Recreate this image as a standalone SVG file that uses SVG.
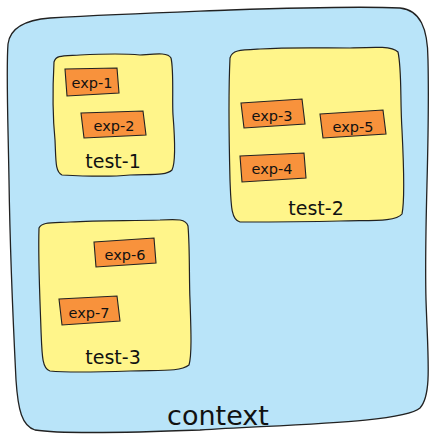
<svg xmlns="http://www.w3.org/2000/svg" width="432" height="434" viewBox="0 0 432 434">
<style>
.ctx{fill:#b9e4f9;stroke:#222;stroke-width:1.3}
.test{fill:#fff58a;stroke:#222;stroke-width:1.2}
.exp{fill:#f8923c;stroke:#222;stroke-width:1.1}
text{font-family:"Comic Sans MS","DejaVu Sans",sans-serif;fill:#111}
.el{font-size:14.5px}
.tl{font-size:19px}
.cl{font-size:27px}
</style>
<rect width="432" height="434" fill="#fff"/>
<g id="context">
<path class="ctx" d="M8,44 C10,28 24,20 50,18 C120,14 180,12 230,10 C290,8 360,6 400,8 C420,10 428,28 428,60 C430,150 424,220 426,300 C428,360 432,395 420,408 C405,422 300,424 200,430 C120,433 60,434 35,430 C22,426 18,410 16,380 C12,300 10,250 9,180 C8,120 6,70 8,44 Z"/>
<text class="cl" x="218" y="425" text-anchor="middle">context</text>
</g>
<g id="test-1">
<path class="test" d="M54,62 C56,55 62,56 80,55 C100,54 120,53 140,55 C155,54 168,52 171,58 C174,70 172,100 173,115 C175,140 176,162 172,170 C166,176 150,174 130,175 C110,177 80,176 62,175 C55,172 56,160 55,140 C53,120 52,100 54,62 Z"/>
<text class="tl" x="113" y="168" text-anchor="middle">test-1</text>
</g>
<g id="exp-1">
<path class="exp" d="M65,69 L117,68 L119,93 L67,96 Z"/>
<text class="el" x="92" y="88" text-anchor="middle">exp-1</text>
</g>
<g id="exp-2">
<path class="exp" d="M81,113 L143,111 L146,135 L84,138 Z"/>
<text class="el" x="114" y="131" text-anchor="middle">exp-2</text>
</g>
<g id="test-2">
<path class="test" d="M230,58 C232,50 240,50 260,49 C290,47 320,48 350,48 C375,47 392,46 398,52 C402,70 400,100 402,130 C404,170 405,200 402,214 C396,222 370,220 340,221 C300,222 260,222 240,222 C231,220 231,205 230,180 C229,140 228,100 230,58 Z"/>
<text class="tl" x="316" y="215" text-anchor="middle">test-2</text>
</g>
<g id="exp-3">
<path class="exp" d="M241,103 L302,99 L305,124 L244,128 Z"/>
<text class="el" x="272" y="121" text-anchor="middle">exp-3</text>
</g>
<g id="exp-5">
<path class="exp" d="M320,114 L383,110 L386,134 L323,138 Z"/>
<text class="el" x="353" y="132" text-anchor="middle">exp-5</text>
</g>
<g id="exp-4">
<path class="exp" d="M240,156 L304,153 L306,178 L242,182 Z"/>
<text class="el" x="272" y="174" text-anchor="middle">exp-4</text>
</g>
<g id="test-3">
<path class="test" d="M39,228 C42,222 50,223 70,222 C100,220 130,221 160,220 C178,219 186,219 188,226 C190,250 189,280 190,300 C191,330 192,355 189,365 C180,372 160,370 130,371 C100,372 70,373 50,371 C42,369 42,355 41,330 C40,300 38,260 39,228 Z"/>
<text class="tl" x="113" y="364" text-anchor="middle">test-3</text>
</g>
<g id="exp-6">
<path class="exp" d="M94,242 L154,238 L156,263 L96,267 Z"/>
<text class="el" x="125" y="260" text-anchor="middle">exp-6</text>
</g>
<g id="exp-7">
<path class="exp" d="M59,299 L117,296 L120,321 L62,325 Z"/>
<text class="el" x="89" y="318" text-anchor="middle">exp-7</text>
</g>
<g id="connectors"></g>
</svg>
